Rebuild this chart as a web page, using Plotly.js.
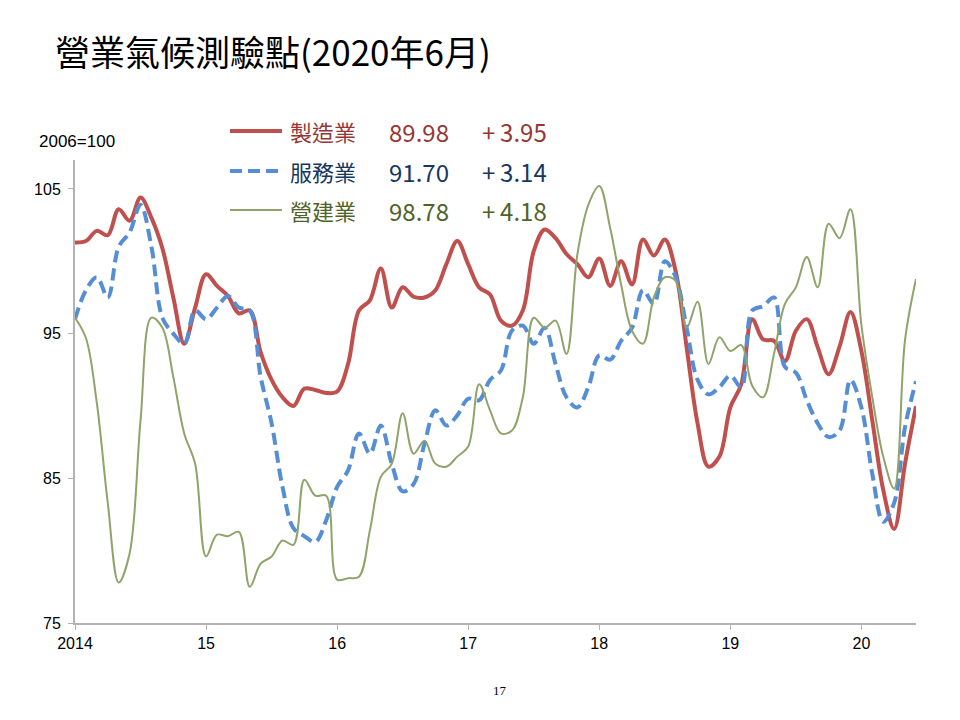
<!DOCTYPE html>
<html>
<head>
<meta charset="utf-8">
<script src="https://cdn.plot.ly/plotly-3.0.1.min.js"></script>
<style>
  html, body { margin: 0; padding: 0; background: #fff; }
  #chart { width: 960px; height: 720px; }
</style>
</head>
<body>
<div id="chart"></div>
<script>
// monthly index values, Jan 2014 .. Jun 2020 (2006=100)
var manufacturing = [
  101.3, 101.4, 102.1, 101.8, 103.6, 102.8, 104.4, 103.0, 100.9, 97.5, 94.3, 96.8,
  99.1, 98.3, 97.6, 96.4, 96.6, 93.7, 91.8, 90.6, 90.0, 91.2, 91.1, 90.9,
  91.0, 92.9, 96.6, 97.3, 99.5, 96.8, 98.2, 97.55, 97.5, 98.0, 99.8, 101.4,
  99.8, 98.2, 97.7, 95.9, 95.55, 96.6, 100.7, 102.2, 101.6, 100.5, 99.8, 98.9,
  100.2, 98.3, 100.0, 98.4, 101.5, 100.4, 101.5, 99.3, 94.05, 88.8, 85.8, 86.5,
  89.9, 91.5, 96.0, 94.6, 94.5, 93.1, 95.2, 96.0, 94.05, 92.2, 94.1, 96.5,
  93.8, 89.0, 84.2, 81.5, 86.03, 89.98
];
var services = [
  96.0, 98.0, 98.9, 97.5, 101.0, 102.0, 103.9, 101.0, 96.1, 95.0, 94.3, 96.6,
  96.0, 96.8, 97.6, 96.8, 96.6, 92.0, 88.8, 84.4, 81.55, 81.0, 80.6, 82.1,
  84.4, 85.55, 88.1, 86.7, 88.65, 86.0, 84.1, 84.6, 87.4, 89.7, 88.65, 89.35,
  90.5, 90.4, 91.8, 92.45, 95.2, 95.55, 94.3, 95.4, 92.9, 90.6, 89.9, 91.3,
  93.5, 93.2, 94.5, 95.4, 98.0, 97.05, 100.0, 98.9, 95.4, 91.8, 90.8, 91.3,
  92.1, 91.3, 96.6, 96.9, 97.5, 92.7, 92.3, 90.4, 88.8, 87.85, 88.3, 91.8,
  89.9, 85.3, 82.0, 83.3, 88.56, 91.70
];
var construction = [
  96.1, 94.7, 90.2, 83.3, 77.8, 79.8, 89.0, 96.1, 95.4, 92.0, 88.1, 86.0,
  79.6, 81.1, 81.0, 81.3, 77.5, 79.1, 79.6, 80.7, 80.4, 84.9, 83.8, 83.8,
  78.0, 78.1, 78.2, 81.4, 85.1, 86.0, 89.5, 86.7, 87.6, 86.0, 85.8, 86.5,
  87.2, 91.5, 89.7, 88.1, 88.3, 90.6, 96.1, 95.4, 95.9, 93.6, 100.5, 103.9,
  105.2, 102.3, 98.4, 95.2, 94.3, 97.5, 98.9, 98.65, 95.4, 97.2, 92.9, 94.75,
  93.8, 94.2, 91.4, 90.6, 93.6, 97.05, 98.2, 100.3, 98.2, 102.6, 101.6, 103.6,
  95.6, 90.6, 86.5, 84.3, 94.60, 98.78
];
var yearLabels = ['2014', '15', '16', '17', '18', '19', '20'];
var yTicks = [75, 85, 95, 105];

var months = manufacturing.map(function (v, i) { return i; });
var yearTicks = yearLabels.map(function (l, i) { return i * 12; });

var series = [
  {name: '製造業', y: manufacturing, line: '#C0504D', text: '#953735', width: 4, dash: 'solid'},
  {name: '服務業', y: services, line: '#558ED5', text: '#17375E', width: 4, dash: '12px,6px'},
  {name: '營建業', y: construction, line: '#8FA46B', text: '#4F6228', width: 2, dash: 'solid'}
];

var traces = series.map(function (s) {
  return {
    type: 'scatter', mode: 'lines',
    x: months, y: s.y, name: s.name,
    line: {color: s.line, width: s.width, dash: s.dash, shape: 'spline', smoothing: 1},
    hoverinfo: 'skip', showlegend: false
  };
});

var font = 'Liberation Sans, Arial, sans-serif';
var cjk = 'Noto Sans CJK TC, sans-serif';

// hand-made legend: line sample, name, latest value, monthly change
var annotations = [];
var shapes = [];
var rowY = [1.0626, 0.9762, 0.892];
series.forEach(function (s, k) {
  var last = s.y[s.y.length - 1];
  var chg = last - s.y[s.y.length - 2];
  shapes.push({type: 'line', xref: 'paper', yref: 'paper', x0: 0.1843, x1: 0.2461, y0: rowY[k], y1: rowY[k],
    line: {color: s.line, width: s.width, dash: s.dash}});
  annotations.push({xref: 'paper', yref: 'paper', x: 0.2533, y: rowY[k], xanchor: 'left', yanchor: 'middle',
    text: s.name, showarrow: false, font: {family: cjk, size: 22, color: s.text}});
  annotations.push({xref: 'paper', yref: 'paper', x: 0.371, y: rowY[k], xanchor: 'left', yanchor: 'middle',
    text: last.toFixed(2), showarrow: false, font: {family: cjk, size: 24, color: s.text}});
  annotations.push({xref: 'paper', yref: 'paper', x: 0.4816, y: rowY[k], xanchor: 'left', yanchor: 'middle',
    text: (chg >= 0 ? '+\u2009' : '') + chg.toFixed(2), showarrow: false, font: {family: cjk, size: 24, color: s.text}});
});
annotations.push({xref: 'paper', yref: 'paper', x: -0.0452, y: 1.0389, xanchor: 'left', yanchor: 'middle',
  text: '2006=100', showarrow: false, font: {family: font, size: 17, color: '#000'}});
annotations.push({xref: 'paper', yref: 'paper', x: 0.505, y: -0.145, xanchor: 'center', yanchor: 'middle',
  text: '17', showarrow: false, font: {family: 'Liberation Serif, serif', size: 13, color: '#000'}});

var layout = {
  width: 960, height: 720,
  margin: {l: 75, r: 44, t: 160, b: 97},
  paper_bgcolor: '#fff', plot_bgcolor: '#fff',
  title: {
    text: '營業氣候測驗點(2020年6月)',
    xref: 'container', yref: 'container', x: 0.0573, y: 0.926,
    xanchor: 'left', yanchor: 'middle',
    font: {family: cjk, size: 35, color: '#000'}
  },
  showlegend: false,
  xaxis: {
    range: [0, 77], tickvals: yearTicks, ticktext: yearLabels,
    showline: true, linecolor: '#B3B3B3', linewidth: 2,
    ticks: 'outside', ticklen: 5, tickcolor: '#B3B3B3', tickwidth: 1,
    showgrid: false, zeroline: false,
    tickfont: {family: font, size: 16, color: '#000'}
  },
  yaxis: {
    range: [75, 107], tickvals: yTicks,
    showline: true, linecolor: '#B3B3B3', linewidth: 2,
    ticks: 'outside', ticklen: 5, tickcolor: '#B3B3B3', tickwidth: 1,
    ticklabelstandoff: 4,
    showgrid: false, zeroline: false,
    tickfont: {family: font, size: 16, color: '#000'}
  },
  shapes: shapes,
  annotations: annotations
};

Plotly.newPlot('chart', traces, layout, {displayModeBar: false, staticPlot: true});
</script>
</body>
</html>
